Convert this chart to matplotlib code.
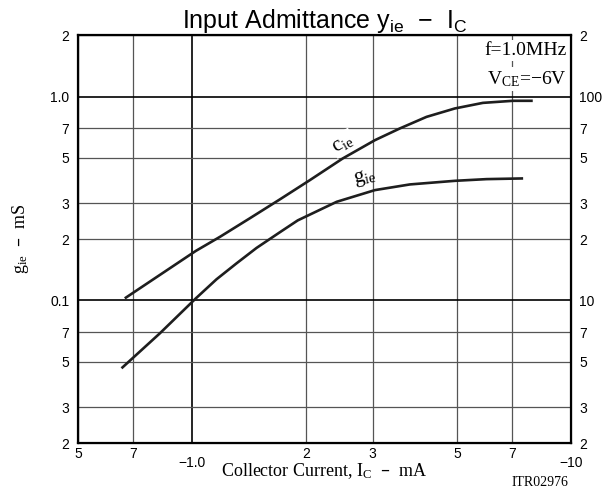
import numpy as np
import matplotlib
matplotlib.use('Agg')
import matplotlib.pyplot as plt

# collector current magnitude (mA) and input capacitance (pF, right axis)
ic_c = [0.665, 1.024, 1.185, 1.422, 1.706, 2.047, 2.50, 3.04, 3.54, 4.16,
        4.94, 5.86, 7.03, 7.93]
cie = [10.24, 17.5, 20.5, 25.3, 31.3, 38.9, 49.7, 61.1, 69.8, 79.5,
       87.4, 93.1, 95.3, 95.3]

# collector current magnitude (mA) and input conductance (mS, left axis)
ic_g = [0.652, 0.823, 1.024, 1.161, 1.311, 1.481, 1.706, 1.902, 2.41, 3.04,
        3.76, 4.94, 5.99, 7.48]
gie = [0.0465, 0.069, 0.1024, 0.127, 0.1520, 0.1810, 0.2160, 0.2470, 0.3047,
       0.3477, 0.3707, 0.3861, 0.3936, 0.3967]

x_major = [1.0, 10]
x_major_lab = ['\u22121.0', '\u221210']
x_minor = [0.5, 0.7, 2, 3, 5, 7]
x_minor_lab = ['5', '7', '2', '3', '5', '7']

yl_major = [0.1, 1.0]
yl_major_lab = ['0.1', '1.0']
yl_minor = [0.02, 0.03, 0.05, 0.07, 0.2, 0.3, 0.5, 0.7, 2]
yl_minor_lab = ['2', '3', '5', '7', '2', '3', '5', '7', '2']

yr_ticks = [2, 3, 5, 7, 10, 20, 30, 50, 70, 100, 200]
yr_lab = ['2', '3', '5', '7', '10', '2', '3', '5', '7', '100', '2']

sans = 'Liberation Sans'
serif = 'Liberation Serif'
MINUS = '\u2212'
DASH = '\u2013'

fig = plt.figure(figsize=(6.08, 4.95), dpi=100)
ax = fig.add_axes([0.128, 0.105, 0.811, 0.824])
ax.set_xscale('log')
ax.set_yscale('log')
ax.set_xlim(0.5, 10)
ax.set_ylim(0.02, 2)

ax.set_xticks(x_major, x_major_lab, fontfamily=sans, fontsize=10)
ax.set_xticks(x_minor, x_minor_lab, minor=True, fontfamily=sans, fontsize=10)
ax.set_yticks(yl_major, yl_major_lab, fontfamily=sans, fontsize=10)
ax.set_yticks(yl_minor, yl_minor_lab, minor=True, fontfamily=sans, fontsize=10)
ax.tick_params(which='both', length=0)
ax.tick_params(axis='x', which='minor', pad=3)
ax.tick_params(axis='x', which='major', pad=9)
ax.tick_params(axis='y', which='both', pad=6)
ax.grid(True, which='major', color='black', lw=1.2)
ax.grid(True, which='minor', color='#555555', lw=0.9)
for s in ax.spines.values():
    s.set_linewidth(1.6)

ax.plot(ic_g, gie, color='#1e1e1e', lw=1.9, solid_capstyle='butt')

ax2 = ax.twinx()
ax2.set_yscale('log')
ax2.set_ylim(2, 200)
ax2.set_yticks(yr_ticks, yr_lab, fontfamily=sans, fontsize=10)
ax2.yaxis.set_minor_locator(matplotlib.ticker.NullLocator())
ax2.tick_params(which='both', length=0, pad=6)
ax2.plot(ic_c, cie, color='#1e1e1e', lw=1.9, solid_capstyle='butt')

ax2.text(2.5, 59, r'c$\mathregular{_{ie}}$', fontfamily=serif, fontsize=15,
         rotation=30, ha='center', va='center',
         bbox=dict(facecolor='white', edgecolor='none', pad=1))
ax.text(2.86, 0.40, r'g$\mathregular{_{ie}}$', fontfamily=serif, fontsize=15,
        rotation=12, ha='center', va='center')

ax.text(0.992, 0.963, 'f=1.0MHz', transform=ax.transAxes, fontfamily=serif,
        fontsize=14, ha='right', va='center',
        bbox=dict(facecolor='white', edgecolor='none', pad=1.5))
ax.text(0.992, 0.893, r'V$\mathregular{_{CE}}$=' + MINUS + '6V',
        transform=ax.transAxes, fontfamily=serif,
        fontsize=14, ha='right', va='center',
        bbox=dict(facecolor='white', edgecolor='none', pad=1.5))

ax.set_title(r'Input Admittance y$\mathregular{_{ie}}$  ' + MINUS + r'  I$\mathregular{_C}$',
             fontfamily=sans, fontsize=18, pad=3)
ax.set_xlabel(r'Collector Current, I$\mathregular{_C}$  ' + DASH + '  mA',
              fontfamily=serif, fontsize=13)
ax.xaxis.set_label_coords(0.5, -0.045)
ax.set_ylabel(r'g$\mathregular{_{ie}}$  ' + DASH + '  mS',
              fontfamily=serif, fontsize=13, labelpad=14)
fig.text(0.935, 0.018, 'ITR02976', fontfamily=serif, fontsize=10, ha='right')

fig.savefig('out.png', dpi=100)
